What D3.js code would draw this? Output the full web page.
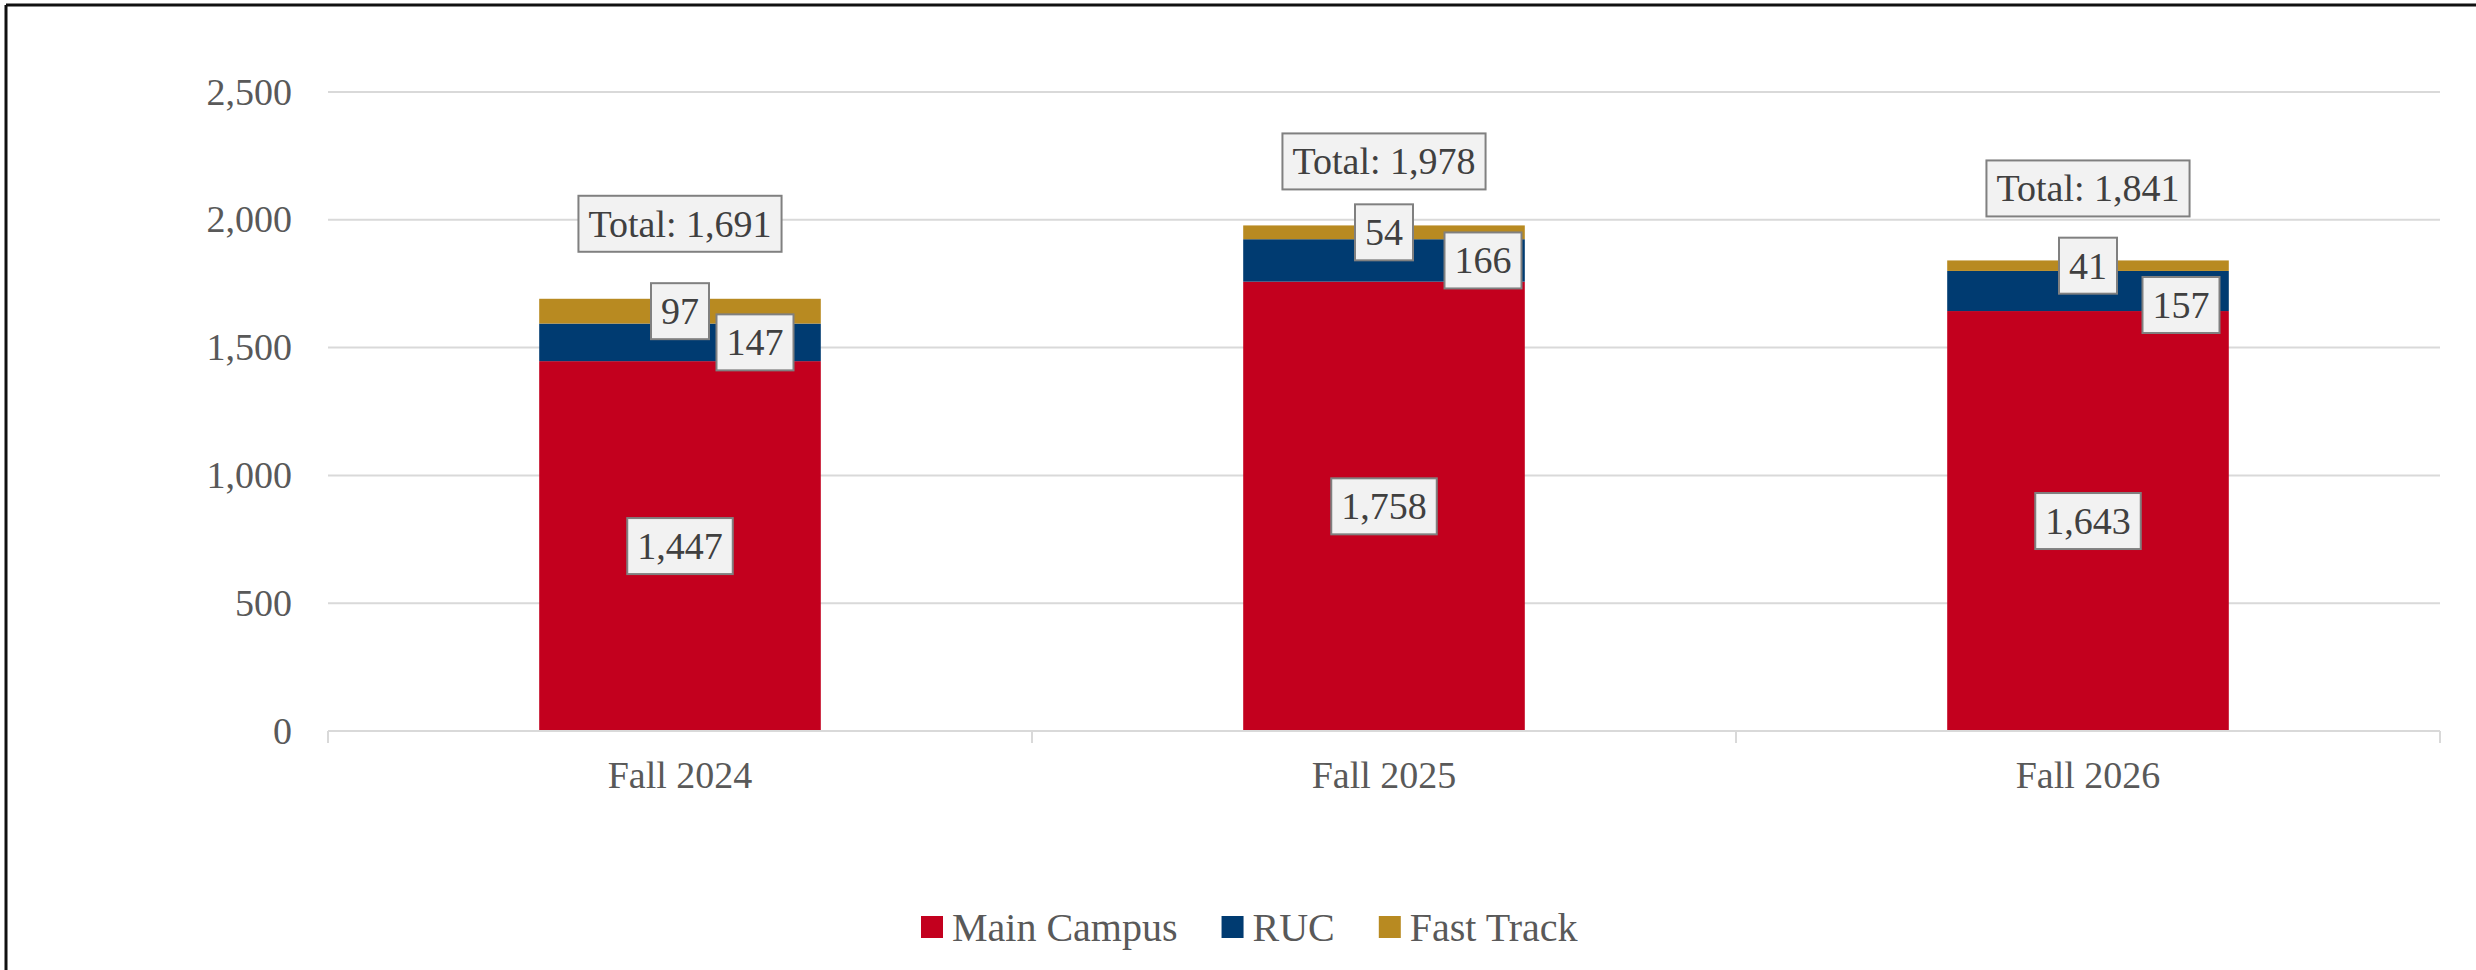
<!DOCTYPE html>
<html>
<head>
<meta charset="utf-8">
<script src="https://cdn.jsdelivr.net/npm/d3@7"></script>
<style>
  html, body { margin: 0; padding: 0; background: #ffffff; }
  svg { display: block; }
  text { font-family: "Liberation Serif", "DejaVu Serif", serif; }
</style>
</head>
<body>
<div id="chart"></div>
<script>
// ---------- DATA ----------
const categories = ["Fall 2024", "Fall 2025", "Fall 2026"];
const seriesNames = ["Main Campus", "RUC", "Fast Track"];
const mainCampus = [1447, 1758, 1643];
const ruc = [147, 166, 157];
const fastTrack = [97, 54, 41];
const totals = [1691, 1978, 1841];
const yTicks = [0, 500, 1000, 1500, 2000, 2500];

// ---------- LAYOUT / STYLE ----------
const W = 2476, H = 970;
const plot = { left: 328, right: 2440, top: 92, bottom: 731 };
const colors = ["#C3001E", "#003B71", "#B88A21"];
const textColor = "#595959";
const gridColor = "#d9d9d9";
const fontFamily = "Liberation Serif, DejaVu Serif, serif";
const fontSize = 38;
const legendFontSize = 40;
// label nudges (pixels), as positioned in the original chart
const totalLabelGap = [75, 64, 72];
const rucLabelDx = [75, 99, 93];
const rucLabelDy = [0, 0, 14];

const svg = d3.select("#chart").append("svg")
  .attr("width", W).attr("height", H);

svg.append("rect").attr("x", 0).attr("y", 0).attr("width", W).attr("height", H).attr("fill", "#fff");

// frame (top and left visible)
svg.append("line").attr("x1", 6).attr("x2", W).attr("y1", 5).attr("y2", 5)
  .attr("stroke", "#111").attr("stroke-width", 3);
svg.append("line").attr("x1", 6).attr("x2", 6).attr("y1", 5).attr("y2", H)
  .attr("stroke", "#111").attr("stroke-width", 3);

const x = d3.scaleBand().domain(categories).range([plot.left, plot.right]).paddingInner(0.6).paddingOuter(0.3);
const xOuter = d3.scaleBand().domain(categories).range([plot.left, plot.right]);
const y = d3.scaleLinear().domain([0, 2500]).range([plot.bottom, plot.top]);

// gridlines
svg.append("g").selectAll("line").data(yTicks.filter(d => d > 0)).join("line")
  .attr("x1", plot.left).attr("x2", plot.right)
  .attr("y1", d => y(d)).attr("y2", d => y(d))
  .attr("stroke", gridColor).attr("stroke-width", 2);

// y-axis labels
const yAxis = d3.axisLeft(y).tickValues(yTicks).tickFormat(d3.format(",")).tickSize(0).tickPadding(36);
const yg = svg.append("g").attr("transform", `translate(${plot.left},0)`).call(yAxis)
  .attr("font-family", fontFamily).attr("font-size", fontSize);
yg.select(".domain").remove();
yg.selectAll("text").attr("fill", textColor).style("font-family", fontFamily).style("font-size", fontSize + "px");

// stacked data
const rows = categories.map((c, i) => ({ cat: c, "Main Campus": mainCampus[i], "RUC": ruc[i], "Fast Track": fastTrack[i] }));
const stack = d3.stack().keys(seriesNames)(rows);

const gBars = svg.append("g");
stack.forEach((layer, li) => {
  gBars.selectAll(null).data(layer).join("rect")
    .attr("x", d => x(d.data.cat))
    .attr("width", x.bandwidth())
    .attr("y", d => y(d[1]))
    .attr("height", d => y(d[0]) - y(d[1]))
    .attr("fill", colors[li]);
});

// x axis
const xAxis = d3.axisBottom(xOuter).tickSize(0).tickPadding(30);
const xg = svg.append("g").attr("transform", `translate(0,${plot.bottom})`).call(xAxis)
  .attr("font-family", fontFamily).attr("font-size", fontSize);
xg.select(".domain").attr("stroke", gridColor).attr("stroke-width", 2)
  .attr("d", `M${plot.left},0H${plot.right}`);
xg.selectAll("text").attr("fill", textColor).style("font-family", fontFamily).style("font-size", fontSize + "px");
// category boundary ticks
const bounds = [plot.left].concat(categories.map(c => xOuter(c) + xOuter.bandwidth()));
svg.append("g").selectAll("line").data(bounds).join("line")
  .attr("x1", d => d).attr("x2", d => d)
  .attr("y1", plot.bottom).attr("y2", plot.bottom + 12)
  .attr("stroke", gridColor).attr("stroke-width", 2);

// label boxes
function boxLabel(g, cx, cy, text) {
  const grp = g.append("g");
  const t = grp.append("text").text(text)
    .attr("x", cx).attr("y", cy)
    .attr("text-anchor", "middle").attr("dominant-baseline", "central")
    .attr("fill", "#404040")
    .style("font-family", fontFamily).style("font-size", fontSize + "px");
  const bb = t.node().getBBox();
  const padX = 10, h = 56;
  grp.insert("rect", "text")
    .attr("x", cx - bb.width / 2 - padX).attr("y", cy - h / 2)
    .attr("width", bb.width + padX * 2).attr("height", h)
    .attr("fill", "#f2f2f2").attr("stroke", "#808080").attr("stroke-width", 2);
}

const gLab = svg.append("g");
const fmt = d3.format(",");
categories.forEach((c, i) => {
  const cx = x(c) + x.bandwidth() / 2;
  boxLabel(gLab, cx, y(mainCampus[i] / 2), fmt(mainCampus[i]));
  boxLabel(gLab, cx, y(mainCampus[i] + ruc[i] + fastTrack[i] / 2), fmt(fastTrack[i]));
  boxLabel(gLab, cx + rucLabelDx[i], y(mainCampus[i] + ruc[i] / 2) + rucLabelDy[i], fmt(ruc[i]));
  boxLabel(gLab, cx, y(totals[i]) - totalLabelGap[i], "Total: " + fmt(totals[i]));
});

// legend
const legend = svg.append("g");
let lx = 921;
const ly = 927;
seriesNames.forEach((name, i) => {
  legend.append("rect").attr("x", lx).attr("y", ly - 11).attr("width", 22).attr("height", 22).attr("fill", colors[i]);
  const t = legend.append("text").text(name)
    .attr("x", lx + 31).attr("y", ly)
    .attr("dominant-baseline", "central")
    .attr("fill", textColor)
    .style("font-family", fontFamily).style("font-size", legendFontSize + "px");
  lx = lx + 31 + t.node().getBBox().width + 44;
});
</script>
</body>
</html>
